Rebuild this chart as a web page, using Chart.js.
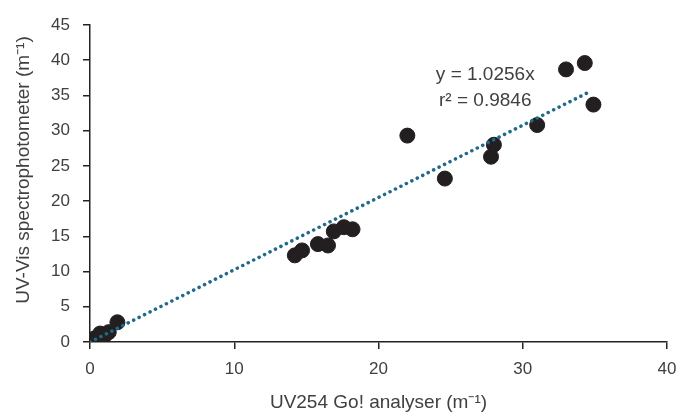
<!DOCTYPE html>
<html>
<head>
<meta charset="utf-8">
<script src="https://cdn.jsdelivr.net/npm/chart.js@4"></script>
<style>
html,body{margin:0;padding:0;background:#fff;}
#wrap{width:684px;height:414px;}
</style>
</head>
<body>
<div id="wrap"><canvas id="c" width="684" height="414"></canvas></div>
<script>
// Data
const goAnalyser = [0.1, 0.3, 0.5, 0.7, 1.0, 1.3, 1.9, 14.2, 14.7, 15.8, 16.5, 16.9, 17.6, 18.2, 22.0, 24.6, 27.8, 28.0, 31.0, 33.0, 34.3, 34.9];
const spectro    = [0.2, 0.5, 0.3, 1.2, 0.9, 1.4, 2.8, 12.3, 13.0, 13.9, 13.7, 15.7, 16.3, 16.0, 29.3, 23.2, 26.3, 28.0, 30.8, 38.7, 39.6, 33.7];
const slope = 1.0256;
const rSquared = 0.9846;
const trendX = [0, 34.6];
const xTicks = [0, 10, 20, 30, 40];
const yTicks = [0, 5, 10, 15, 20, 25, 30, 35, 40, 45];
const xTitle = 'UV254 Go! analyser (m⁻¹)';
const yTitle = 'UV-Vis spectrophotometer (m⁻¹)';
const eqLabel = 'y = ' + slope.toFixed(4) + 'x';
const r2Label = 'r² = ' + rSquared.toFixed(4);
const eqPos = [27.4, 37.9];
const r2Pos = [27.4, 34.2];

const FONT = "'Liberation Sans', Arial, sans-serif";
const TXT = '#404040';

const points = goAnalyser.map((x, i) => ({x: x, y: spectro[i]}));
const trend = trendX.map(x => ({x: x, y: slope * x}));

const annot = {
  id: 'annot',
  afterDatasetsDraw(chart) {
    const {ctx, scales} = chart;
    ctx.save();
    ctx.fillStyle = TXT;
    ctx.font = '19px ' + FONT;
    ctx.textAlign = 'center';
    ctx.textBaseline = 'middle';
    ctx.fillText(eqLabel, scales.x.getPixelForValue(eqPos[0]), scales.y.getPixelForValue(eqPos[1]));
    ctx.fillText(r2Label, scales.x.getPixelForValue(r2Pos[0]), scales.y.getPixelForValue(r2Pos[1]));
    // y axis title
    ctx.translate(24, 170);
    ctx.rotate(-Math.PI / 2);
    ctx.fillText(yTitle, 0, 0);
    ctx.restore();
  }
};

new Chart(document.getElementById('c'), {
  type: 'scatter',
  data: {
    datasets: [
      {
        data: trend,
        type: 'line',
        showLine: true,
        borderColor: '#1f6a8a',
        borderWidth: 3.5,
        borderDash: [0.1, 6],
        borderCapStyle: 'round',
        pointRadius: 0,
        fill: false,
        order: 0
      },
      {
        data: points,
        backgroundColor: '#231f20',
        borderColor: '#231f20',
        pointRadius: 7.5,
        pointHoverRadius: 7.5,
        order: 1
      }
    ]
  },
  options: {
    responsive: false,
    animation: false,
    events: [],
    layout: {padding: {left: 0, right: 17, top: 25, bottom: 0}},
    plugins: {legend: {display: false}, tooltip: {enabled: false}},
    scales: {
      x: {
        type: 'linear', min: 0, max: 40,
        afterBuildTicks(s) { s.ticks = xTicks.map(v => ({value: v})); },
        afterFit(s) { s.height = 72; s.paddingRight = 0; s.paddingLeft = 0; },
        grid: {display: true, drawOnChartArea: false, drawTicks: true, tickLength: 7, color: '#222', lineWidth: 1.5},
        border: {display: true, color: '#222', width: 1.5},
        ticks: {color: TXT, font: {family: FONT, size: 17}, padding: 10, maxRotation: 0},
        title: {display: true, text: xTitle, color: TXT, font: {family: FONT, size: 19}, padding: {top: 4, bottom: 0}}
      },
      y: {
        type: 'linear', min: 0, max: 45,
        afterBuildTicks(s) { s.ticks = yTicks.map(v => ({value: v})); },
        afterFit(s) { s.width = 90; s.paddingTop = 0; s.paddingBottom = 0; },
        grid: {display: true, drawOnChartArea: false, drawTicks: true, tickLength: 7, color: '#222', lineWidth: 1.5},
        border: {display: true, color: '#222', width: 1.5},
        ticks: {color: TXT, font: {family: FONT, size: 17}, padding: 13},
        title: {display: false}
      }
    }
  },
  plugins: [annot]
});
</script>
</body>
</html>
